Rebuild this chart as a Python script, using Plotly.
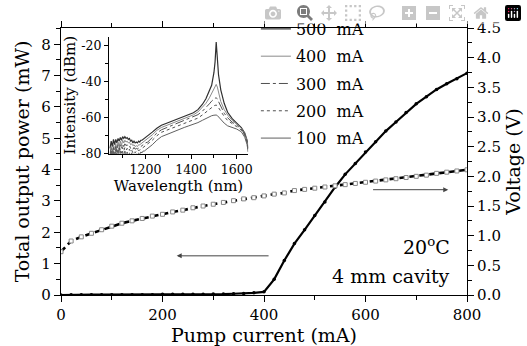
import plotly.graph_objects as go

# ---------------- main data ----------------
current_mA = list(range(0, 801, 20))
power_mW = [0.0, 0.01, 0.01, 0.01, 0.01, 0.01, 0.01, 0.01, 0.01, 0.01, 0.02,
            0.02, 0.02, 0.02, 0.02, 0.03, 0.03, 0.04, 0.05, 0.07, 0.10,
            0.50, 1.10, 1.64, 2.08, 2.54, 2.97, 3.44, 3.85, 4.20, 4.56,
            4.89, 5.23, 5.52, 5.82, 6.10, 6.33, 6.56, 6.74, 6.90, 7.08]
voltage_V = [0.73, 0.91, 0.98, 1.04, 1.10, 1.16, 1.21, 1.25, 1.29, 1.33, 1.36,
             1.40, 1.43, 1.47, 1.50, 1.53, 1.56, 1.59, 1.62, 1.64, 1.67,
             1.70, 1.72, 1.76, 1.78, 1.80, 1.82, 1.84, 1.86, 1.88, 1.90,
             1.92, 1.94, 1.96, 1.98, 2.00, 2.02, 2.05, 2.07, 2.09, 2.11]

# ---------------- inset data ----------------
wl_nm = ([1045 + 5 * i for i in range(32)] +
         [1210, 1230, 1250, 1270, 1290, 1310, 1330, 1350, 1370, 1390, 1410, 1430,
          1450, 1465, 1480, 1490, 1500, 1505, 1510, 1515, 1520, 1530, 1545, 1560,
          1580, 1600, 1620, 1635, 1645, 1650])
spec_500 = [-77, -73, -76, -72, -75, -72, -74, -71.5, -73, -71, -72.5, -70.5, -71.5, -70.5, -71.5, -71,
            -72, -71.5, -73, -72.5, -74, -73, -74, -73.5, -74, -73, -73.5, -72.5, -72.5, -72, -71.5, -71,
            -70.5, -68, -65.8, -64.2, -63.2, -62.2, -61.2, -60.2, -59.2, -58.3, -57.2, -55.5,
            -52.5, -49.5, -45.5, -42, -35, -29, -18, -29, -36, -44.5, -52, -57,
            -60.5, -63, -65.5, -68.5, -72.5, -77]
spec_400 = [-80, -76, -79, -75, -78, -74.5, -77, -73.5, -76, -73, -75.5, -72.5, -74, -72.5, -73.5, -73,
            -74, -73.5, -75, -74.5, -75.5, -75, -76, -75.5, -76, -75, -75, -74.5, -74, -73.5, -73, -72.5,
            -72, -69.5, -67, -65.4, -64.4, -63.4, -62.4, -61.4, -60.4, -59.4, -58.4, -56.8,
            -54.3, -52, -49, -46.5, -43.5, -42.3, -41.5, -43, -46, -51, -55.5, -58.5,
            -61.5, -63.5, -65.8, -68.8, -72.8, -77]
spec_300 = [-82, -77, -81, -76.5, -80, -76, -79, -75, -78, -75, -77, -74.5, -76, -74.5, -75.5, -75,
            -76, -75.5, -77, -76.5, -77.5, -76.5, -77.5, -77, -77.5, -76.5, -76.5, -76, -75.5, -75, -74.5, -74,
            -73.5, -71, -68.5, -66.7, -65.7, -64.7, -63.7, -62.7, -61.7, -60.7, -59.7, -58.3,
            -56.3, -54.5, -52.3, -50.8, -49.5, -49.1, -49, -49.5, -51, -54, -57.5, -60,
            -62.5, -64.2, -66.2, -69.2, -73.2, -77.5]
spec_200 = [-84, -78, -83, -78, -82, -77.5, -81, -77, -80, -77, -79.5, -76.5, -78.5, -76.5, -78, -77,
            -78.5, -77.5, -79, -78, -79.5, -78.5, -79.5, -78.5, -79, -78, -78, -77.5, -77, -76.5, -76, -75.5,
            -75, -72.5, -70, -68.1, -67.1, -66.1, -65.1, -64.1, -63.1, -62.2, -61.4, -60.2,
            -58.4, -56.8, -55.2, -54.2, -53.4, -53.1, -53, -53.4, -54.5, -56.5, -59.3, -61.5,
            -63.5, -65, -66.8, -69.8, -73.8, -78]
spec_100 = [-86, -79, -85, -79, -84, -79, -83, -78.5, -82.5, -78.5, -82, -78.5, -81.5, -78.5, -81, -79,
            -81.5, -79.5, -82, -79.5, -82, -80, -81.5, -80, -81, -79.5, -80.5, -79, -79.5, -78.5, -78.5, -78,
            -77.5, -75, -72.5, -70.5, -69.5, -68.4, -67.4, -66.4, -65.4, -64.5, -63.7, -62.7,
            -61.4, -60.3, -59.4, -58.9, -58.6, -58.5, -58.5, -58.8, -59.5, -61, -63, -64.5,
            -65.5, -66.3, -67.8, -70.8, -74.8, -79]
spec_labels = ["500  mA", "400  mA", "300  mA", "200  mA", "100  mA"]
spec_values = [spec_500, spec_400, spec_300, spec_200, spec_100]
spec_styles = [("#303030", "solid", 1.2), ("#8a8a8a", "solid", 1.0), ("#505050", "dashdot", 1.0),
               ("#505050", "dot", 1.0), ("#606060", "solid", 1.0)]

inset_xticks = [1200, 1400, 1600]
inset_yticks = [-20, -40, -60, -80]

FONT = "DejaVu Serif"


def tf(size):
    return dict(family=FONT, size=size, color="black")


fig = go.Figure()

fig.add_trace(go.Scatter(x=current_mA, y=voltage_V, yaxis="y2", mode="lines+markers",
                         line=dict(color="black", width=2.6, dash="6px,4px"),
                         marker=dict(symbol="square", size=4, color="white",
                                     line=dict(color="#888888", width=1)),
                         showlegend=False))
fig.add_trace(go.Scatter(x=current_mA, y=power_mW, mode="lines+markers",
                         line=dict(color="black", width=2.2),
                         marker=dict(symbol="circle", size=3.5, color="black"),
                         showlegend=False))

for lab, vals, (col, dash, w) in zip(spec_labels, spec_values, spec_styles):
    fig.add_trace(go.Scatter(x=wl_nm, y=vals, xaxis="x3", yaxis="y3", mode="lines",
                             line=dict(color=col, width=w, dash=dash), name=lab,
                             legendgroup=lab))

axis_common = dict(showline=True, linecolor="black", linewidth=1.2, ticks="outside",
                   tickcolor="black", tickwidth=1.2, showgrid=False, zeroline=False,
                   tickfont=tf(15), automargin=False)
inset_common = dict(showline=True, linecolor="black", linewidth=1, ticks="outside",
                    tickcolor="black", showgrid=False, zeroline=False, tickfont=tf(12.5),
                    ticklen=4)

fig.update_layout(
    width=527, height=346,
    margin=dict(l=61, r=60, t=18, b=51),
    paper_bgcolor="white", plot_bgcolor="white",
    font=dict(family=FONT, color="black"),
    xaxis=dict(range=[0, 800], tickvals=[0, 200, 400, 600, 800], ticklen=6, mirror="ticks",
               minor=dict(dtick=100, ticks="outside", ticklen=4, tickcolor="black"),
               title=dict(text="Pump current (mA)", font=tf(19), standoff=2),
               **axis_common),
    yaxis=dict(range=[0, 8.52], tickvals=list(range(0, 9)), ticklen=6,
               minor=dict(dtick=0.5, ticks="outside", ticklen=4, tickcolor="black"),
               title=dict(text="Total output power (mW)", font=tf(19), standoff=6),
               **axis_common),
    yaxis2=dict(range=[0, 4.5], overlaying="y", side="right", dtick=0.5, tickformat=".1f",
                ticklen=6, minor=dict(dtick=0.25, ticks="outside", ticklen=4, tickcolor="black"),
                title=dict(text="Voltage (V)", font=tf(19), standoff=6),
                **axis_common),
    xaxis3=dict(domain=[0.118, 0.461], anchor="y3", range=[1040, 1650],
                tickvals=inset_xticks,
                minor=dict(dtick=100, ticks="outside", ticklen=3, tickcolor="black"),
                title=dict(text="Wavelength (nm)", font=tf(15), standoff=0),
                **inset_common),
    yaxis3=dict(domain=[0.529, 0.9675], anchor="x3", range=[-80, -15],
                tickvals=inset_yticks, ticktext=[str(v) for v in inset_yticks],
                minor=dict(dtick=10, ticks="outside", ticklen=3, tickcolor="black"),
                title=dict(text="Intensity (dBm)", font=tf(15), standoff=2),
                **inset_common),
    legend=dict(x=0.48, y=1.06, xanchor="left", yanchor="top", bgcolor="rgba(0,0,0,0)",
                font=tf(16), tracegroupgap=3.5),
    annotations=[
        dict(x=228, y=1.25, ax=412, ay=1.25, xref="x", yref="y", axref="x", ayref="y",
             showarrow=True, arrowhead=2, arrowsize=1, arrowwidth=1, arrowcolor="#444", text=""),
        dict(x=763, y=3.36, ax=612, ay=3.36, xref="x", yref="y", axref="x", ayref="y",
             showarrow=True, arrowhead=2, arrowsize=1, arrowwidth=1, arrowcolor="#444", text=""),
        dict(x=0.963, y=(295 - 244) / 277, xref="paper", yref="paper", xanchor="right",
             yanchor="middle", showarrow=False, text="20<sup>o</sup>C", font=tf(19)),
        dict(x=0.963, y=(295 - 275) / 277, xref="paper", yref="paper", xanchor="right",
             yanchor="middle", showarrow=False, text="4 mm cavity", font=tf(19)),
    ],
)

# remove the browser's default 8px page margin so the figure sits at the window origin
fig.write_html("out.html", post_script="document.body.style.margin='0';")
